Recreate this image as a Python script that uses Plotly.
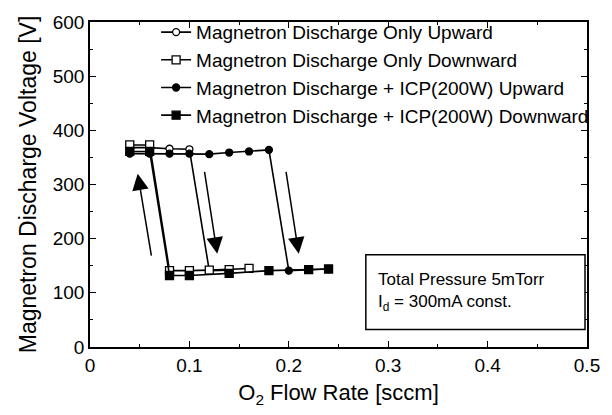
import plotly.graph_objects as go

# Magnetron Discharge Only - Upward
only_up_x = [0.04, 0.06, 0.08, 0.10, 0.12, 0.14]
only_up_y = [368, 368, 366, 365, 141, 142]
# Magnetron Discharge Only - Downward
only_down_x = [0.16, 0.14, 0.12, 0.10, 0.08, 0.06, 0.04]
only_down_y = [145, 143, 142, 141, 141, 373, 373]
# Magnetron Discharge + ICP(200W) - Upward
icp_up_x = [0.04, 0.06, 0.08, 0.10, 0.12, 0.14, 0.16, 0.18, 0.20, 0.22, 0.24]
icp_up_y = [357, 357, 357, 357, 356, 359, 361, 364, 141, 143, 144]
# Magnetron Discharge + ICP(200W) - Downward
icp_down_x = [0.24, 0.22, 0.18, 0.14, 0.10, 0.08, 0.06, 0.04]
icp_down_y = [144, 143, 141, 136, 132, 132, 361, 361]

names = [
    "Magnetron Discharge Only Upward",
    "Magnetron Discharge Only Downward",
    "Magnetron Discharge + ICP(200W) Upward",
    "Magnetron Discharge + ICP(200W) Downward",
]

# arrows: (tail_x, tail_y, head_x, head_y)
arrows = [
    (0.062, 166, 0.048, 320),
    (0.115, 326, 0.128, 172),
    (0.197, 326, 0.210, 172),
]

FONT = "Liberation Sans, Arial, sans-serif"
fig = go.Figure()
specs = [
    (only_up_x, only_up_y, "circle", 7, "white"),
    (only_down_x, only_down_y, "square", 8, "white"),
    (icp_up_x, icp_up_y, "circle", 7, "black"),
    (icp_down_x, icp_down_y, "square", 8, "black"),
]
for i, (xs, ys, sym, sz, fill) in enumerate(specs):
    fig.add_trace(go.Scatter(
        x=xs, y=ys, mode="lines+markers", name=names[i],
        legendgroup=f"g{i}",
        line=dict(color="black", width=1.6),
        marker=dict(symbol=sym, size=sz, color=fill, line=dict(color="black", width=1.3)),
    ))

for tx, ty, hx, hy in arrows:
    fig.add_annotation(x=hx, y=hy, ax=tx, ay=ty, xref="x", yref="y", axref="x", ayref="y",
                       showarrow=True, arrowhead=2, arrowsize=2.2, arrowwidth=1.5,
                       arrowcolor="black", text="")

fig.add_shape(type="rect", xref="paper", yref="paper", x0=0.555, x1=0.996, y0=0.054, y1=0.284,
              line=dict(color="black", width=1.5), fillcolor="white")
fig.add_annotation(xref="paper", yref="paper", x=0.576, y=0.17, xanchor="left", yanchor="middle",
                   text="Total Pressure 5mTorr<br>I<sub><span style='color:black'>d</span></sub> = 300mA const.",
                   showarrow=False,
                   align="left", font=dict(family=FONT, size=17, color="black"))

axis_common = dict(showline=True, linecolor="black", linewidth=1.5, mirror="allticks",
                   ticks="inside", ticklen=6, tickwidth=1.2, tickcolor="black",
                   showgrid=False, zeroline=False,
                   tickfont=dict(family=FONT, size=19, color="black"),
                   minor=dict(ticks="inside", ticklen=3, tickwidth=1, tickcolor="black"))
fig.update_xaxes(range=[0, 0.5], tickvals=[0, 0.1, 0.2, 0.3, 0.4, 0.5],
                 ticktext=["0", "0.1", "0.2", "0.3", "0.4", "0.5"],
                 minor_dtick=0.05, minor_tick0=0,
                 title=dict(text="O<sub>2</sub> Flow Rate [sccm]", font=dict(family=FONT, size=22, color="black"),
                            standoff=10),
                 **axis_common)
fig.update_yaxes(range=[0, 600], dtick=100, minor_dtick=50,
                 title=dict(text="Magnetron Discharge Voltage [V]", font=dict(family=FONT, size=23, color="black"),
                            standoff=10),
                 **axis_common)

fig.update_layout(
    width=612, height=415,
    margin=dict(l=90, r=23, t=16, b=68),
    plot_bgcolor="white", paper_bgcolor="white",
    showlegend=True,
    legend=dict(x=0.133, y=1.027, xanchor="left", yanchor="top", bgcolor="rgba(0,0,0,0)",
                font=dict(family=FONT, size=19, color="black"), tracegroupgap=0,
                itemwidth=30),
)
fig.write_html("out.html")
